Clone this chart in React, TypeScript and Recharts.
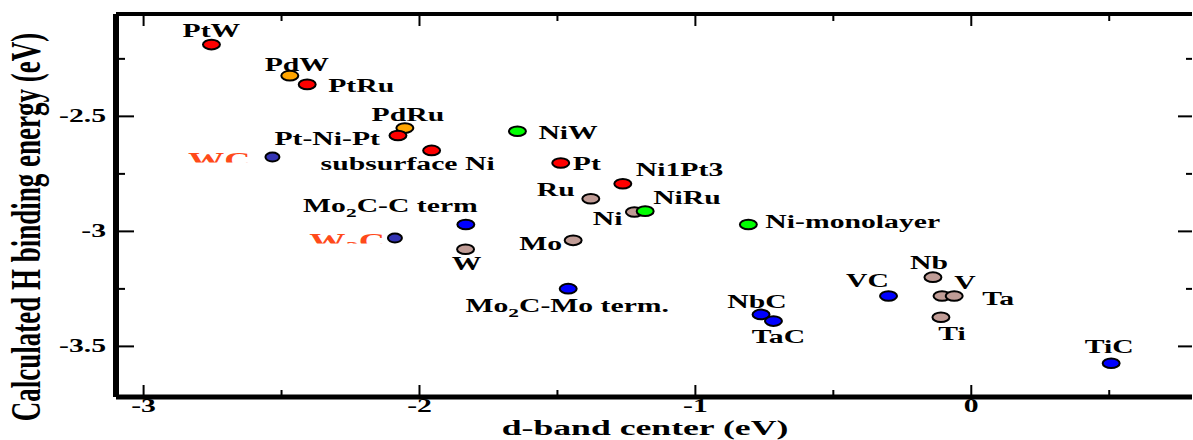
import { ScatterChart, Scatter, XAxis, YAxis } from 'recharts';

// Pt-based surfaces (red)
const ptNames = ['PtW', 'PtRu', 'Pt-Ni-Pt', 'subsurface Ni', 'Pt', 'Ni1Pt3'];
const ptDBand = [-2.754, -2.407, -2.078, -1.956, -1.488, -1.263];
const ptEnergy = [-2.188, -2.361, -2.583, -2.648, -2.703, -2.793];

// Pd-based surfaces (orange)
const pdNames = ['PdW', 'PdRu'];
const pdDBand = [-2.47, -2.053];
const pdEnergy = [-2.323, -2.551];

// Ni-based surfaces (green)
const niNames = ['NiW', 'NiRu', 'Ni-monolayer'];
const niDBand = [-1.645, -1.182, -0.808];
const niEnergy = [-2.565, -2.912, -2.97];

// pure metals (brown)
const metalNames = ['Ru', 'Ni', 'Mo', 'W', 'Nb', 'V', 'Ta', 'Ti'];
const metalDBand = [-1.379, -1.221, -1.443, -1.833, -0.139, -0.106, -0.062, -0.11];
const metalEnergy = [-2.858, -2.916, -3.039, -3.078, -3.199, -3.281, -3.281, -3.373];

// carbides (blue)
const carbideNames = ['Mo2C-C term', 'Mo2C-Mo term.', 'NbC', 'TaC', 'VC', 'TiC'];
const carbideDBand = [-1.832, -1.461, -0.762, -0.717, -0.3, 0.507];
const carbideEnergy = [-2.97, -3.249, -3.361, -3.39, -3.281, -3.573];

// tungsten carbides (navy)
const wcNames = ['WC', 'W2C'];
const wcDBand = [-2.533, -2.089];
const wcEnergy = [-2.677, -3.029];

const xTicks = [-3, -2.5, -2, -1.5, -1, -0.5, 0, 0.5];
const yTicks = [-3.5, -3.25, -3, -2.75, -2.5, -2.25];

const FONT = "'Liberation Serif', 'Times New Roman', serif";
const STRETCH = 1.65;

// label placement relative to the marker: dx, dy (baseline), anchor
const labelPos: Record<string, [number, number, 'start' | 'middle' | 'end']> = {
  PtW: [0, -8, 'middle'],
  PdW: [7, -5, 'middle'],
  PtRu: [21, 8, 'start'],
  PdRu: [3, -7, 'middle'],
  'Pt-Ni-Pt': [-18, 10, 'end'],
  'subsurface Ni': [-24, 20, 'middle'],
  NiW: [21, 8, 'start'],
  Pt: [12, 7, 'start'],
  Ni1Pt3: [13, -8, 'start'],
  Ru: [-16, -3, 'end'],
  NiRu: [8, -7, 'start'],
  Ni: [-12, 13, 'end'],
  'Ni-monolayer': [17, 4, 'start'],
  'Mo2C-C term': [12, -12, 'end'],
  W: [1, 21, 'middle'],
  Mo: [-11, 10, 'end'],
  'Mo2C-Mo term.': [-1, 23, 'middle'],
  NbC: [-4, -6, 'middle'],
  TaC: [5, 22, 'middle'],
  VC: [-21, -9, 'middle'],
  Nb: [-4, -8, 'middle'],
  V: [23, -7, 'middle'],
  Ta: [28, 9, 'start'],
  Ti: [11, 23, 'middle'],
  TiC: [-2, -10, 'middle'],
  WC: [-22, 10, 'end'],
  W2C: [-10, 10, 'end'],
};

const toRows = (names: string[], xs: number[], ys: number[]) =>
  names.map((name, i) => ({ name, x: xs[i], y: ys[i] }));

const allRows = [
  ...toRows(wcNames, wcDBand, wcEnergy),
  ...toRows(metalNames, metalDBand, metalEnergy),
  ...toRows(carbideNames, carbideDBand, carbideEnergy),
  ...toRows(niNames, niDBand, niEnergy),
  ...toRows(pdNames, pdDBand, pdEnergy),
  ...toRows(ptNames, ptDBand, ptEnergy),
];

function NameText({ name, fontSize }: { name: string; fontSize: number }) {
  const m = name.match(/^(Mo|W)2(C.*)$/);
  if (!m) return <>{name}</>;
  return (
    <>
      <tspan>{m[1]}</tspan>
      <tspan dy={5} fontSize={fontSize * 0.72}>2</tspan>
      <tspan dy={-5}>{m[2]}</tspan>
    </>
  );
}

const makeShape =
  (fill: string, rx: number, ry: number, textColor = '#000', clipped = false) =>
  (props: any) => {
    const { cx, cy, payload } = props;
    const name: string = payload.name;
    const [dx, dy, anchor] = labelPos[name] || [12, 5, 'start'];
    const fontSize = clipped ? 22 : 18;
    const clipId = `clip-${name.replace(/[^a-zA-Z0-9]/g, '')}`;
    return (
      <g>
        {clipped && (
          <defs>
            <clipPath id={clipId}>
              <rect x={cx - 150} y={cy - 40} width={150} height={45.5} />
            </clipPath>
          </defs>
        )}
        <g clipPath={clipped ? `url(#${clipId})` : undefined}>
          <text
            transform={`translate(${cx + dx},${cy + dy}) scale(${STRETCH},1)`}
            textAnchor={anchor}
            fontFamily={FONT}
            fontWeight="bold"
            fontSize={fontSize}
            fill={textColor}
          >
            <NameText name={name} fontSize={fontSize} />
          </text>
        </g>
        <ellipse cx={cx} cy={cy} rx={rx} ry={ry} fill={fill} stroke="#000" strokeWidth={2} />
      </g>
    );
  };

const isMajorX = (v: number) => Number.isInteger(v);
const isMajorY = (v: number) => Math.abs(v * 2 - Math.round(v * 2)) < 1e-9;

function BottomTick({ x, y, payload }: any) {
  const v = payload.value;
  const major = isMajorX(v);
  return (
    <g>
      <line x1={x} y1={y} x2={x} y2={y - (major ? 12 : 7)} stroke="#000" strokeWidth={2} />
      {major && (
        <text
          transform={`translate(${x},${y + 15}) scale(${STRETCH},1)`}
          textAnchor="middle"
          fontFamily={FONT}
          fontWeight="bold"
          fontSize={18}
          fill="#000"
        >
          {v}
        </text>
      )}
    </g>
  );
}

function TopTick({ x, y, payload }: any) {
  const major = isMajorX(payload.value);
  return <line x1={x} y1={y} x2={x} y2={y + (major ? 12 : 7)} stroke="#000" strokeWidth={2} />;
}

function LeftTick({ x, y, payload }: any) {
  const v = payload.value;
  const major = isMajorY(v);
  return (
    <g>
      <line x1={x} y1={y} x2={x + (major ? 18 : 9)} y2={y} stroke="#000" strokeWidth={2} />
      {major && (
        <text
          transform={`translate(${x - 10},${y + 6}) scale(${STRETCH},1)`}
          textAnchor="end"
          fontFamily={FONT}
          fontWeight="bold"
          fontSize={18}
          fill="#000"
        >
          {v}
        </text>
      )}
    </g>
  );
}

function RightTick({ x, y, payload }: any) {
  const major = isMajorY(payload.value);
  return <line x1={x} y1={y} x2={x - (major ? 14 : 6)} y2={y} stroke="#000" strokeWidth={2} />;
}

const Nothing = () => <g />;

export default function App() {
  return (
    <div style={{ position: 'absolute', left: 0, top: 0, width: 1193, height: 440, background: '#fff', overflow: 'hidden' }}>
      <ScatterChart width={1193} height={440} margin={{ top: 13, right: 0, bottom: 0, left: 0 }}>
        <XAxis
          type="number"
          dataKey="x"
          domain={[-3.1, 0.8]}
          ticks={xTicks}
          allowDataOverflow
          height={43}
          tickSize={0}
          tickMargin={0}
          tickLine={false}
          axisLine={{ stroke: '#000', strokeWidth: 5 }}
          tick={<BottomTick />}
          interval={0}
        />
        <XAxis
          xAxisId="top"
          orientation="top"
          type="number"
          dataKey="x"
          domain={[-3.1, 0.8]}
          ticks={xTicks}
          allowDataOverflow
          height={1}
          tickSize={0}
          tickMargin={0}
          tickLine={false}
          axisLine={{ stroke: '#000', strokeWidth: 4 }}
          tick={<TopTick />}
          interval={0}
        />
        <YAxis
          type="number"
          dataKey="y"
          domain={[-3.72, -2.055]}
          ticks={yTicks}
          allowDataOverflow
          width={116}
          tickSize={0}
          tickMargin={0}
          tickLine={false}
          axisLine={{ stroke: '#000', strokeWidth: 6 }}
          tick={<LeftTick />}
          interval={0}
        />
        <YAxis
          yAxisId="right"
          orientation="right"
          type="number"
          dataKey="y"
          domain={[-3.72, -2.055]}
          ticks={yTicks}
          allowDataOverflow
          width={1}
          tickSize={0}
          tickMargin={0}
          tickLine={false}
          axisLine={false}
          tick={<RightTick />}
          interval={0}
        />
        {/* invisible series that binds the mirrored top/right axes */}
        <Scatter data={allRows} xAxisId="top" yAxisId="right" shape={Nothing} legendType="none" isAnimationActive={false} />
        <Scatter data={toRows(wcNames, wcDBand, wcEnergy)} shape={makeShape('#3434b4', 7, 4.5, '#ff4a1a', true)} isAnimationActive={false} />
        <Scatter data={toRows(metalNames, metalDBand, metalEnergy)} shape={makeShape('#c09c96', 8.5, 4.8)} isAnimationActive={false} />
        <Scatter data={toRows(carbideNames, carbideDBand, carbideEnergy)} shape={makeShape('#0000ff', 8.5, 4.8)} isAnimationActive={false} />
        <Scatter data={toRows(niNames, niDBand, niEnergy)} shape={makeShape('#00ff00', 8.5, 4.8)} isAnimationActive={false} />
        <Scatter data={toRows(pdNames, pdDBand, pdEnergy)} shape={makeShape('#ffa500', 8.5, 4.8)} isAnimationActive={false} />
        <Scatter data={toRows(ptNames, ptDBand, ptEnergy)} shape={makeShape('#ff0000', 8.5, 4.8)} isAnimationActive={false} />
        <text
          transform={`translate(645,435) scale(1.7,1)`}
          textAnchor="middle"
          fontFamily={FONT}
          fontWeight="bold"
          fontSize={21}
          fill="#000"
        >
          d-band center (eV)
        </text>
        <text
          transform={`translate(40,227) scale(1.6,1) rotate(-90)`}
          textAnchor="middle"
          fontFamily={FONT}
          fontWeight="bold"
          fontSize={27}
          fill="#000"
        >
          Calculated H binding energy (eV)
        </text>
      </ScatterChart>
    </div>
  );
}
